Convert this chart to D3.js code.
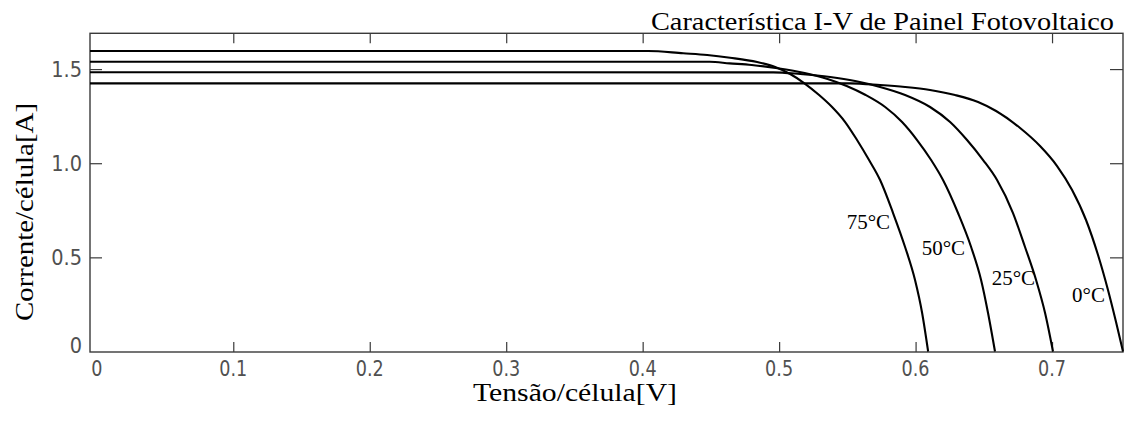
<!DOCTYPE html>
<html>
<head>
<meta charset="utf-8">
<script src="https://cdn.jsdelivr.net/npm/d3@7"></script>
<style>
  html, body { margin: 0; padding: 0; background: #fff; }
  svg { display: block; }
</style>
</head>
<body>
<svg id="chart" width="1127" height="421"></svg>
<script>
// ---- data ----
const temperatures = ["75°C", "50°C", "25°C", "0°C"];

const voltage75 = [-0.005, 0.404, 0.4297, 0.4473, 0.4641, 0.4839, 0.4971, 0.5081, 0.5183, 0.5293, 0.5388, 0.5484, 0.5571, 0.5659, 0.5740, 0.5835, 0.5923, 0.5996, 0.6048, 0.6092];
const current75 = [1.596, 1.596, 1.5837, 1.5746, 1.5603, 1.5374, 1.5109, 1.4737, 1.4259, 1.3622, 1.2985, 1.2188, 1.1232, 1.0170, 0.9108, 0.7355, 0.5550, 0.3797, 0.2045, 0];

const voltage50 = [-0.005, 0.4491, 0.4637, 0.4799, 0.4989, 0.5187, 0.5355, 0.5495, 0.5634, 0.5777, 0.5901, 0.6011, 0.6114, 0.6201, 0.6311, 0.6407, 0.6480, 0.6531, 0.6582];
const current50 = [1.539, 1.539, 1.5305, 1.5215, 1.5040, 1.4790, 1.4472, 1.4100, 1.3622, 1.2985, 1.2188, 1.1232, 1.0170, 0.9108, 0.7355, 0.5550, 0.3797, 0.2045, 0];

const voltage25 = [-0.005, 0.4956, 0.5154, 0.5374, 0.5557, 0.5740, 0.5923, 0.6106, 0.6253, 0.6377, 0.6495, 0.6597, 0.6714, 0.6802, 0.6883, 0.6949, 0.7007];
const current25 = [1.483, 1.4827, 1.4737, 1.4578, 1.4365, 1.4047, 1.3622, 1.2985, 1.2188, 1.1232, 1.0170, 0.9108, 0.7355, 0.5550, 0.3797, 0.2045, 0];

const voltage0 = [-0.005, 0.5520, 0.5740, 0.5923, 0.6106, 0.6289, 0.6458, 0.6590, 0.6766, 0.6912, 0.7037, 0.7147, 0.7249, 0.7337, 0.7410, 0.7469, 0.7520];
const current0 = [1.4243, 1.4243, 1.4153, 1.4047, 1.3888, 1.3622, 1.3250, 1.2772, 1.1869, 1.0913, 0.9851, 0.8577, 0.6984, 0.5125, 0.3266, 0.1567, 0];

const xTickValues = [0, 0.1, 0.2, 0.3, 0.4, 0.5, 0.6, 0.7];
const xTickLabels = ["0", "0.1", "0.2", "0.3", "0.4", "0.5", "0.6", "0.7"];
const yTickValues = [0, 0.5, 1.0, 1.5];
const yTickLabels = ["0", "0.5", "1.0", "1.5"];

// annotation anchors (data units) for the temperature labels
const labelVoltage = [0.5813, 0.6363, 0.6876, 0.7388];
const labelCurrent = [0.6505, 0.5125, 0.3532, 0.2629];

const titleText = "Característica I-V de Painel Fotovoltaico";
const xTitle = "Tensão/célula[V]";
const yTitle = "Corrente/célula[A]";

// ---- layout ----
const svg = d3.select("#chart");
const plotLeft = 90, plotRight = 1123, plotTop = 33.3, plotBottom = 352;

const x = d3.scaleLinear().domain([-0.005, 0.752]).range([plotLeft, plotRight]);
const y = d3.scaleLinear().domain([0, 1.69]).range([351.5, plotTop]);

const serif = "'Liberation Serif', 'Times New Roman', serif";
const sans = "'DejaVu Sans', sans-serif";

function squeeze(sel, factor) {
  sel.each(function () {
    const len = this.getComputedTextLength();
    d3.select(this).attr("textLength", len * factor).attr("lengthAdjust", "spacingAndGlyphs");
  });
}

// frame
svg.append("rect")
  .attr("x", plotLeft).attr("y", plotTop)
  .attr("width", plotRight - plotLeft).attr("height", plotBottom - plotTop)
  .attr("fill", "none").attr("stroke", "#3a3a3a").attr("stroke-width", 1.4);

// axes (ticks inward) built from d3 axes
const tickX = xTickValues.filter(v => v > 0);
const xBottom = d3.axisBottom(x).tickValues(tickX).tickSize(-10).tickFormat("");
const xTopAxis = d3.axisTop(x).tickValues(tickX).tickSize(-10).tickFormat("");
const tickY = yTickValues.filter(v => v > 0);
const yLeft = d3.axisLeft(y).tickValues(tickY).tickSize(-12).tickFormat("");
const yRight = d3.axisRight(y).tickValues(tickY).tickSize(-13).tickFormat("");

function styleAxis(g) {
  g.select(".domain").remove();
  g.selectAll(".tick line").attr("stroke", "#3a3a3a").attr("stroke-width", 1.2);
}
svg.append("g").attr("transform", `translate(0,${plotBottom})`).call(xBottom).call(styleAxis);
svg.append("g").attr("transform", `translate(0,${plotTop})`).call(xTopAxis).call(styleAxis);
svg.append("g").attr("transform", `translate(${plotLeft},0)`).call(yLeft).call(styleAxis);
svg.append("g").attr("transform", `translate(${plotRight},0)`).call(yRight).call(styleAxis);

// tick labels
svg.append("g").selectAll("text")
  .data(xTickValues)
  .join("text")
  .attr("x", d => x(d))
  .attr("y", 376)
  .attr("text-anchor", "middle")
  .attr("font-family", sans).attr("font-size", 22)
  .attr("fill", "#505050")
  .text((d, i) => xTickLabels[i])
  .call(squeeze, 0.8);

svg.append("g").selectAll("text")
  .data(yTickValues)
  .join("text")
  .attr("x", 82)
  .attr("y", d => Math.min(y(d), 345) + 8)
  .attr("text-anchor", "end")
  .attr("font-family", sans).attr("font-size", 22)
  .attr("fill", "#505050")
  .text((d, i) => yTickLabels[i])
  .call(squeeze, 0.88);

// curves
const seriesV = [voltage75, voltage50, voltage25, voltage0];
const seriesI = [current75, current50, current25, current0];
const line = d3.line()
  .x(d => x(d[0]))
  .y(d => y(d[1]))
  .curve(d3.curveMonotoneX);

svg.append("g").selectAll("path")
  .data(temperatures.map((t, k) => seriesV[k].map((v, j) => [v, seriesI[k][j]])))
  .join("path")
  .attr("d", line)
  .attr("fill", "none")
  .attr("stroke", "#000")
  .attr("stroke-width", 2.1)
  .attr("stroke-linejoin", "round");

// temperature labels
svg.append("g").selectAll("text")
  .data(temperatures)
  .join("text")
  .attr("x", (d, i) => x(labelVoltage[i]))
  .attr("y", (d, i) => y(labelCurrent[i]))
  .attr("text-anchor", "end")
  .attr("font-family", serif).attr("font-size", 21)
  .attr("fill", "#000")
  .text(d => d);

// titles
svg.append("text")
  .attr("x", 1114).attr("y", 30)
  .attr("text-anchor", "end")
  .attr("font-family", serif).attr("font-size", 25)
  .attr("textLength", 463).attr("lengthAdjust", "spacingAndGlyphs")
  .attr("fill", "#000")
  .text(titleText);

svg.append("text")
  .attr("x", 575).attr("y", 401)
  .attr("text-anchor", "middle")
  .attr("font-family", serif).attr("font-size", 25)
  .attr("textLength", 204).attr("lengthAdjust", "spacingAndGlyphs")
  .attr("fill", "#000")
  .text(xTitle);

svg.append("text")
  .attr("transform", "translate(33,212) rotate(-90)")
  .attr("text-anchor", "middle")
  .attr("font-family", serif).attr("font-size", 25)
  .attr("textLength", 218).attr("lengthAdjust", "spacingAndGlyphs")
  .attr("fill", "#000")
  .text(yTitle);
</script>
</body>
</html>
